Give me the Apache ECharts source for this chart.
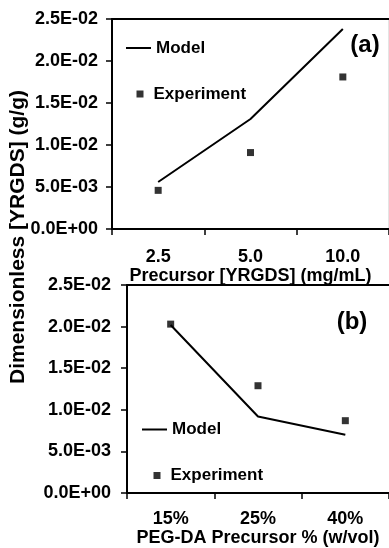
<!DOCTYPE html>
<html>
<head>
<meta charset="utf-8">
<script src="https://cdn.jsdelivr.net/npm/echarts@6/dist/echarts.min.js"></script>
<style>
html,body{margin:0;padding:0;background:#fff;}
#c{width:389px;height:548px;}
</style>
</head>
<body>
<div id="c"></div>
<script>
// ---- data ----
var catsA = ['2.5', '5.0', '10.0'];
var modelA = [0.0056, 0.0131, 0.0238];
var expA = [0.0046, 0.0091, 0.0181];

var catsB = ['15%', '25%', '40%'];
var modelB = [0.0202, 0.0092, 0.0070];
var expB = [0.0203, 0.0129, 0.0087];

var yTickValues = [0, 0.005, 0.01, 0.015, 0.02, 0.025];
var yTickLabels = ['0.0E+00', '5.0E-03', '1.0E-02', '1.5E-02', '2.0E-02', '2.5E-02'];

var titleA = 'Precursor [YRGDS] (mg/mL)';
var titleB = 'PEG-DA Precursor % (w/vol)';
var titleY = 'Dimensionless [YRGDS] (g/g)';
// ---------------

var FONT = '"Liberation Sans", Arial, sans-serif';
function yFmt(v) {
  var best = 0, d = Infinity;
  for (var i = 0; i < yTickValues.length; i++) {
    var dd = Math.abs(yTickValues[i] - v);
    if (dd < d) { d = dd; best = i; }
  }
  return yTickLabels[best];
}

function xAxisMain(grid, cats, name, margin, gap) {
  return {
    type: 'category', gridIndex: grid, data: cats, position: 'bottom',
    axisLine: {show: true, lineStyle: {color: '#000', width: 2}},
    axisTick: {show: true, length: 6, inside: false, lineStyle: {color: '#000', width: 1.5}},
    axisLabel: {margin: margin, color: '#000', fontSize: 18, fontWeight: 'bold', fontFamily: FONT},
    name: name, nameLocation: 'middle', nameGap: gap,
    nameTextStyle: {color: '#000', fontSize: 18, fontWeight: 'bold', fontFamily: FONT},
    splitLine: {show: false}
  };
}
function xAxisTop(grid, cats) {
  return {
    type: 'category', gridIndex: grid, data: cats, position: 'top',
    axisLine: {show: true, lineStyle: {color: '#000', width: 2}},
    axisTick: {show: false}, axisLabel: {show: false}, splitLine: {show: false}
  };
}
function yAxis(grid, margin) {
  return {
    type: 'value', gridIndex: grid, min: 0, max: 0.025, interval: 0.005,
    axisLine: {show: true, lineStyle: {color: '#000', width: 2}},
    axisTick: {show: true, length: 6, lineStyle: {color: '#000', width: 1.5}},
    axisLabel: {margin: margin, color: '#000', fontSize: 18, fontWeight: 'bold', fontFamily: FONT, formatter: yFmt},
    splitLine: {show: false}
  };
}

var legendText = {color: '#000', fontSize: 17, fontWeight: 'bold', fontFamily: FONT};
var legendTextExp = {color: '#000', fontSize: 17, fontWeight: 'bold', fontFamily: FONT, padding: [0, 0, 0, 5]};
var lineIcon = 'path://M0,0H25V2H0Z';

var chart = echarts.init(document.getElementById('c'), null, {renderer: 'canvas'});
chart.setOption({
  animation: false,
  backgroundColor: '#fff',
  grid: [
    {left: 112, top: 19, width: 277, height: 210, show: true, borderColor: '#c8c8c8', borderWidth: 1, backgroundColor: 'transparent'},
    {left: 127, top: 285, width: 267, height: 211, show: false}
  ],
  xAxis: [
    xAxisMain(0, catsA, titleA, 19, 37),
    xAxisTop(0, catsA),
    xAxisMain(1, catsB, titleB, 17, 35),
    xAxisTop(1, catsB)
  ],
  yAxis: [yAxis(0, 14), yAxis(1, 16)],
  legend: [
    {data: [{name: 'Model', icon: lineIcon}], left: 121, top: 34.5, itemWidth: 25, itemHeight: 2, textStyle: legendText},
    {data: [{name: 'Experiment', icon: 'rect'}], left: 131.5, top: 80.5, itemWidth: 7, itemHeight: 7, textStyle: legendTextExp},
    {data: [{name: 'Model', icon: lineIcon}], left: 137, top: 416, itemWidth: 25, itemHeight: 2, textStyle: legendText},
    {data: [{name: 'Experiment', icon: 'rect'}], left: 148.5, top: 462, itemWidth: 7, itemHeight: 7, textStyle: legendTextExp}
  ],
  series: [
    {name: 'Model', type: 'line', xAxisIndex: 0, yAxisIndex: 0, data: modelA, symbol: 'none',
     lineStyle: {color: '#000', width: 2}, itemStyle: {color: '#000'}},
    {name: 'Experiment', type: 'scatter', xAxisIndex: 0, yAxisIndex: 0, data: expA, symbol: 'rect', symbolSize: 7,
     itemStyle: {color: '#000'}},
    {name: 'Model', type: 'line', xAxisIndex: 2, yAxisIndex: 1, data: modelB, symbol: 'none',
     lineStyle: {color: '#000', width: 2}, itemStyle: {color: '#000'}},
    {name: 'Experiment', type: 'scatter', xAxisIndex: 2, yAxisIndex: 1, data: expB, symbol: 'rect', symbolSize: 7,
     itemStyle: {color: '#000'}}
  ],
  graphic: [
    {type: 'text', x: 18, y: 237, rotation: Math.PI / 2,
     style: {text: titleY, x: 0, y: 0, align: 'center', verticalAlign: 'middle', fill: '#000',
             font: 'bold 21px ' + FONT}},
    {type: 'text', x: 365, y: 45,
     style: {text: '(a)', x: 0, y: 0, align: 'center', verticalAlign: 'middle', fill: '#000', font: 'bold 24px ' + FONT}},
    {type: 'text', x: 352, y: 322,
     style: {text: '(b)', x: 0, y: 0, align: 'center', verticalAlign: 'middle', fill: '#000', font: 'bold 24px ' + FONT}}
  ]
});
</script>
</body>
</html>
